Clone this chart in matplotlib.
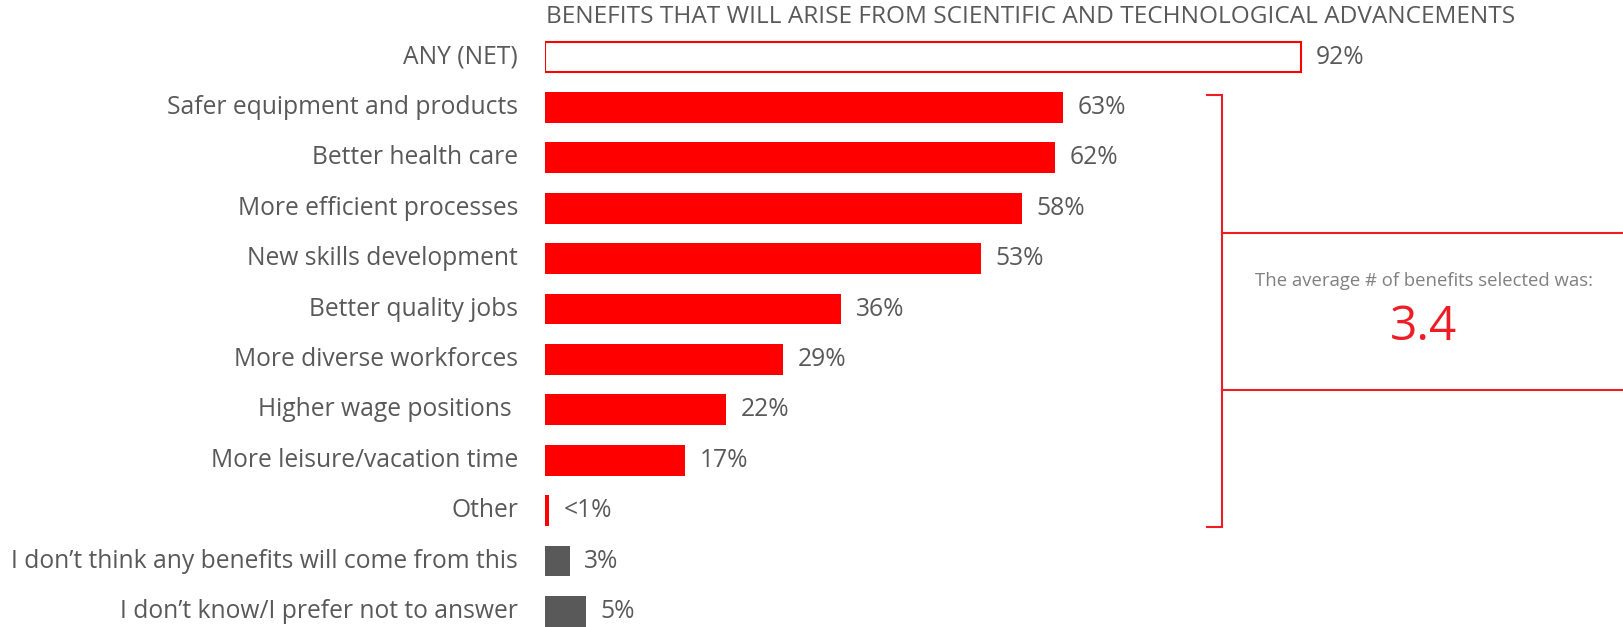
import matplotlib
matplotlib.use("Agg")
import matplotlib.pyplot as plt
from matplotlib import font_manager

plt.rcParams['font.family'] = ['Open Sans', 'DejaVu Sans']

categories = ["ANY (NET)", "Safer equipment and products", "Better health care",
              "More efficient processes", "New skills development", "Better quality jobs",
              "More diverse workforces", "Higher wage positions ", "More leisure/vacation time",
              "Other", "I don\u2019t think any benefits will come from this",
              "I don\u2019t know/I prefer not to answer"]
values = [92, 63, 62, 58, 53, 36, 29, 22, 17, 0.5, 3, 5]
value_labels = ["92%", "63%", "62%", "58%", "53%", "36%", "29%", "22%", "17%", "<1%", "3%", "5%"]
kinds = ["net"] + ["benefit"] * 9 + ["none"] * 2

title = "BENEFITS THAT WILL ARISE FROM SCIENTIFIC AND TECHNOLOGICAL ADVANCEMENTS"
avg_text = "The average # of benefits selected was:"
avg_value = "3.4"

RED = "#ff0000"
LINE_RED = "#ee1c25"
GRAY = "#595959"
TEXT = "#595959"

W, H = 1624, 627
fig = plt.figure(figsize=(W / 100, H / 100), dpi=100)

# axes starts where the bars start; 1 % = 8.22 px, one row = 50.4 px
x0 = 545
px_per_pct = 8.22
row_px = 50.4
first_row_px = 57
ax = fig.add_axes([x0 / W, 0, 1 - x0 / W, 1])
ax.set_xlim(0, (W - x0) / px_per_pct)
ax.set_ylim((H - first_row_px) / row_px, -first_row_px / row_px)
ax.axis('off')

rows = list(range(len(categories)))
for r, v, k in zip(rows, values, kinds):
    if k == "net":
        ax.barh(r, v, height=0.615, color="white", edgecolor=RED, linewidth=1.5)
    elif k == "benefit":
        ax.barh(r, v, height=0.615, color=RED, linewidth=0)
    else:
        ax.barh(r, v, height=0.615, color=GRAY, linewidth=0)

for r, v, lab, cat in zip(rows, values, value_labels, categories):
    ax.annotate(lab, (v, r), xytext=(10.5, 0), textcoords="offset points",
                ha="left", va="center", fontsize=17.7, color=TEXT)
    ax.annotate(cat, (0, r), xytext=(-19.5, 0), textcoords="offset points",
                ha="right", va="center", fontsize=17.7, color=TEXT)

# bracket around the individual benefits, with the average box
bx = (1222 - x0) / px_per_pct
btick = (1207 - x0) / px_per_pct
ytop = 0.5 + 0.25
ybot = 9 + 0.32
ax.plot([btick, bx, bx, btick], [ytop, ytop, ybot, ybot], color=LINE_RED, lw=1.5,
        solid_joinstyle="miter")
xr = ax.get_xlim()[1]
for yb in [(233 - first_row_px) / row_px, (390 - first_row_px) / row_px]:
    ax.plot([bx, xr], [yb, yb], color=LINE_RED, lw=1.5, clip_on=False)

cx = (1424 - x0) / px_per_pct
ax.text(cx, (281 - first_row_px) / row_px, avg_text, ha="center", va="center",
        fontsize=13.3, color="#808080")
ax.text(cx, (327 - first_row_px) / row_px, avg_value, ha="center", va="center",
        fontsize=34.5, color=LINE_RED)

# condensed title, sized to its width
names = {f.name for f in font_manager.fontManager.ttflist}
tfam = ['Liberation Sans Narrow', 'DejaVu Sans'] if 'Liberation Sans Narrow' in names else ['Open Sans', 'DejaVu Sans']
t = fig.text(546 / W, 1 - 17 / H, title, ha="left", va="center", fontsize=15,
             color=TEXT, family=tfam)
fig.canvas.draw()
w = t.get_window_extent().width
t.set_fontsize(15 * 970 / w)

fig.savefig("out.png", dpi=100, facecolor="white")
